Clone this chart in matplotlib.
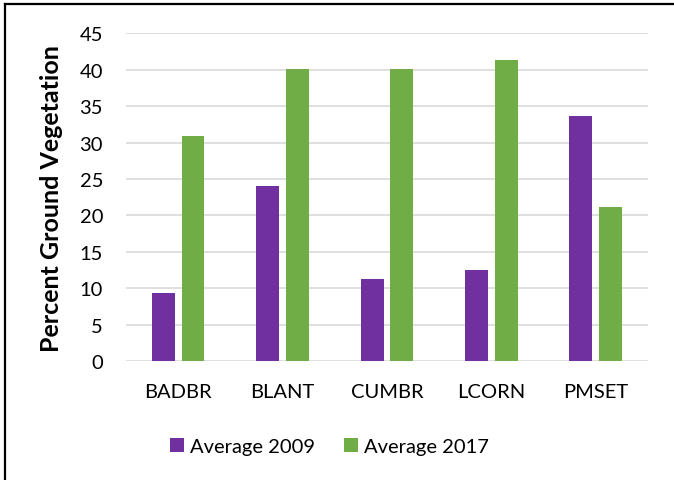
import matplotlib.pyplot as plt
import numpy as np
from matplotlib.lines import Line2D

sites = ["BADBR", "BLANT", "CUMBR", "LCORN", "PMSET"]
avg_2009 = [9.4, 24.1, 11.2, 12.5, 33.6]
avg_2017 = [30.9, 40.1, 40.1, 41.4, 21.2]
y_ticks = [0, 5, 10, 15, 20, 25, 30, 35, 40, 45]

purple = "#7030A0"
green = "#70AD47"

plt.rcParams['font.family'] = ['Lato', 'DejaVu Sans']

fig = plt.figure(figsize=(6.74, 4.81), dpi=100)
ax = fig.add_axes([0.187, 0.2474, 0.774, 0.6811])

x = np.arange(len(sites))
width = 0.22
gap = 0.064
ax.bar(x - (width + gap) / 2, avg_2009, width, color=purple, label="Average 2009", zorder=3)
ax.bar(x + (width + gap) / 2, avg_2017, width, color=green, label="Average 2017", zorder=3)

ax.set_xlim(-0.5, len(sites) - 0.5)
ax.set_ylim(0, 45)
ax.set_yticks(y_ticks)
ax.set_xticks(x)
ax.set_xticklabels(sites)
ax.tick_params(axis='both', length=0, labelsize=14.5, colors='black')
ax.tick_params(axis='y', pad=16.5)
ax.tick_params(axis='x', pad=16)

ax.yaxis.grid(True, color='#d9d9d9', linewidth=1.2, zorder=0)
ax.set_axisbelow(True)
for s in ax.spines.values():
    s.set_visible(False)

ax.set_ylabel("Percent Ground Vegetation", fontsize=18, fontweight='bold', labelpad=12)

ax.legend(loc='center', bbox_to_anchor=(0.39, -0.26), ncol=2, frameon=False,
          fontsize=14.5, handlelength=0.7, handleheight=0.7, handletextpad=0.3,
          columnspacing=1.4)

# frame around the chart (left and top edges show)
fig.add_artist(Line2D([0.0075, 0.0075], [0, 0.989], color='black', linewidth=1.6))
fig.add_artist(Line2D([0.0075, 1.0], [0.989, 0.989], color='black', linewidth=1.6))

fig.savefig("out.png", dpi=100)
